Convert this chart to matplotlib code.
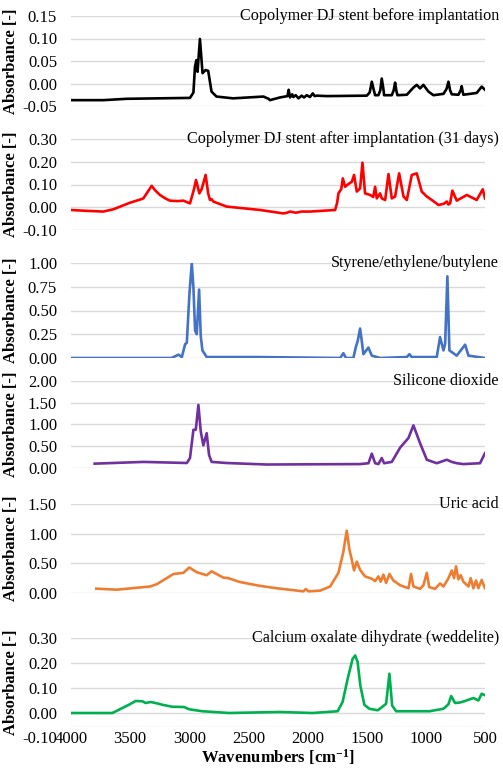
"""
ftir_panels.py  —  stacked FTIR spectra (DJ stent vs. reference compounds)
"""

import matplotlib
matplotlib.use("Agg")
import matplotlib.pyplot as plt
import matplotlib.transforms as mtransforms

# ── Spectra ──────────────────────────────────────────────────────────────────

titles = [
    "Copolymer DJ stent before implantation",
    "Copolymer DJ stent after implantation (31 days)",
    "Styrene/ethylene/butylene",
    "Silicone dioxide",
    "Uric acid",
    "Calcium oxalate dihydrate (weddelite)",
]

wn_before = [4000, 3727, 3529, 2994, 2965, 2952, 2940, 2930, 2910, 2888, 2862, 2840,
             2812, 2770, 2630, 2373, 2330, 2318, 2233, 2170, 2160, 2148, 2130, 2120,
             2100, 2077, 2050, 2030, 2007, 1980, 1956, 1940, 1922, 1837, 1499, 1475,
             1457, 1440, 1429, 1401, 1385, 1373, 1360, 1353, 1288, 1272, 1260, 1248,
             1240, 1161, 1105, 1077, 1049, 1021, 978, 936, 851, 825, 809, 795, 781,
             725, 705, 697, 690, 683, 570, 528, 500]
abs_before = [-0.037, -0.037, -0.034, -0.032, -0.020, 0.037, 0.052, 0.026, 0.099, 0.023,
              0.030, 0.028, -0.018, -0.029, -0.033, -0.029, -0.034, -0.037, -0.031,
              -0.028, -0.014, -0.031, -0.024, -0.030, -0.026, -0.033, -0.027, -0.031,
              -0.026, -0.030, -0.022, -0.028, -0.027, -0.028, -0.027, -0.020, 0.004,
              -0.015, -0.026, -0.026, -0.015, 0.011, -0.010, -0.026, -0.026, -0.015,
              0.002, -0.018, -0.026, -0.025, -0.009, -0.003, -0.011, -0.003, -0.018,
              -0.026, -0.023, -0.012, 0.004, -0.015, -0.024, -0.025, -0.015, -0.006,
              -0.016, -0.025, -0.021, -0.007, -0.014]

wn_after = [4000, 3900, 3727, 3642, 3501, 3420, 3388, 3318, 3290, 3248, 3200, 3163,
            3100, 3050, 2994, 2960, 2943, 2915, 2895, 2862, 2840, 2825, 2810, 2797,
            2685, 2402, 2205, 2180, 2148, 2100, 2050, 1979, 1767, 1750, 1739, 1715,
            1702, 1683, 1660, 1626, 1607, 1584, 1556, 1536, 1514, 1471, 1445, 1429,
            1415, 1387, 1373, 1344, 1316, 1288, 1260, 1226, 1189, 1161, 1119, 1077,
            1035, 992, 950, 893, 850, 823, 810, 795, 776, 739, 654, 570, 519, 500]
abs_after = [-0.012, -0.015, -0.019, -0.009, 0.020, 0.033, 0.039, 0.094, 0.075, 0.054,
             0.038, 0.029, 0.027, 0.029, 0.017, 0.080, 0.120, 0.061, 0.080, 0.142,
             0.060, 0.032, 0.035, 0.025, 0.003, -0.012, -0.027, -0.025, -0.019, -0.024,
             -0.019, -0.019, -0.012, 0.020, 0.061, 0.080, 0.127, 0.090, 0.100, 0.112,
             0.142, 0.069, 0.083, 0.196, 0.061, 0.054, 0.045, 0.090, 0.039, 0.061,
             0.039, 0.032, 0.146, 0.039, 0.047, 0.149, 0.047, 0.032, 0.142, 0.149,
             0.069, 0.047, 0.032, 0.010, 0.015, 0.025, 0.012, 0.017, 0.073, 0.029,
             0.054, 0.032, 0.079, 0.039]

wn_seb = [4000, 3150, 3091, 3063, 3035, 3021, 2999, 2979, 2965, 2951, 2937, 2917, 2903,
          2889, 2853, 2430, 1725, 1697, 1675, 1613, 1593, 1576, 1556, 1542, 1528, 1486,
          1457, 1387, 1161, 1139, 1119, 908, 880, 851, 837, 818, 801, 739, 668, 640, 500]
abs_seb = [0.0, 0.0, 0.035, 0.01, 0.146, 0.16, 0.67, 1.00, 0.74, 0.29, 0.25, 0.72, 0.23,
           0.08, 0.01, 0.01, 0.0, 0.05, 0.0, 0.0, 0.11, 0.18, 0.31, 0.18, 0.04, 0.11,
           0.025, 0.0, 0.01, 0.04, 0.01, 0.01, 0.22, 0.08, 0.15, 0.86, 0.08, 0.025,
           0.14, 0.025, 0.0]

wn_sio2 = [3800, 3388, 3021, 2994, 2965, 2945, 2923, 2903, 2881, 2853, 2833, 2811, 2685,
           2346, 1556, 1485, 1457, 1429, 1401, 1373, 1353, 1288, 1217, 1147, 1105, 1049,
           992, 908, 823, 781, 739, 683, 542, 500]
abs_sio2 = [0.10, 0.14, 0.115, 0.23, 0.88, 0.88, 1.45, 0.84, 0.52, 0.80, 0.30, 0.14,
            0.115, 0.08, 0.09, 0.11, 0.33, 0.11, 0.09, 0.23, 0.11, 0.14, 0.47, 0.69,
            0.98, 0.57, 0.19, 0.11, 0.19, 0.14, 0.11, 0.09, 0.11, 0.34]

wn_uric = [3786, 3611, 3330, 3273, 3134, 3050, 3000, 2937, 2853, 2811, 2769, 2713, 2670,
           2572, 2402, 2261, 2035, 2015, 1993, 1894, 1809, 1739, 1697, 1669, 1646, 1626,
           1607, 1584, 1556, 1514, 1457, 1429, 1401, 1382, 1359, 1336, 1308, 1274, 1217,
           1147, 1125, 1105, 1049, 1021, 992, 972, 922, 880, 851, 809, 781, 762, 745,
           725, 705, 683, 640, 621, 598, 576, 556, 528, 500]
abs_uric = [0.073, 0.056, 0.11, 0.15, 0.32, 0.34, 0.43, 0.35, 0.30, 0.365, 0.32, 0.26,
            0.25, 0.185, 0.12, 0.08, 0.028, 0.067, 0.028, 0.04, 0.11, 0.34, 0.70, 1.05,
            0.73, 0.56, 0.38, 0.53, 0.39, 0.28, 0.24, 0.20, 0.28, 0.19, 0.31, 0.17,
            0.32, 0.21, 0.13, 0.08, 0.32, 0.11, 0.07, 0.13, 0.34, 0.10, 0.07, 0.16,
            0.11, 0.25, 0.38, 0.25, 0.45, 0.23, 0.30, 0.19, 0.11, 0.25, 0.08, 0.21,
            0.08, 0.22, 0.08]

wn_cox = [4000, 3650, 3620, 3566, 3510, 3454, 3397, 3369, 3327, 3285, 3228, 3144, 3045,
          3002, 2946, 2889, 2664, 2240, 1958, 1746, 1704, 1661, 1619, 1597, 1577, 1554,
          1520, 1478, 1407, 1370, 1336, 1308, 1285, 1252, 970, 851, 809, 786, 753, 711,
          669, 598, 556, 528, 500]
abs_cox = [0.0, 0.0, 0.007, 0.02, 0.033, 0.048, 0.047, 0.04, 0.044, 0.04, 0.033, 0.025,
           0.024, 0.015, 0.011, 0.007, 0.0, 0.004, 0.0, 0.007, 0.044, 0.137, 0.217,
           0.23, 0.204, 0.11, 0.033, 0.017, 0.011, 0.024, 0.037, 0.157, 0.03, 0.007,
           0.007, 0.017, 0.035, 0.068, 0.04, 0.042, 0.048, 0.06, 0.05, 0.077, 0.071]

# y ticks per panel
yticks_before = [-0.05, 0.00, 0.05, 0.10, 0.15]
yticks_after = [-0.10, 0.00, 0.10, 0.20, 0.30]
yticks_seb = [0.00, 0.25, 0.50, 0.75, 1.00]
yticks_sio2 = [0.00, 0.50, 1.00, 1.50, 2.00]
yticks_uric = [0.00, 0.50, 1.00, 1.50]
yticks_cox = [-0.10, 0.00, 0.10, 0.20, 0.30]

xticks = [4000, 3500, 3000, 2500, 2000, 1500, 1000, 500]

# ── Style ────────────────────────────────────────────────────────────────────

plt.rcParams['font.family'] = ['Liberation Serif', 'DejaVu Serif']
plt.rcParams['mathtext.fontset'] = 'custom'
plt.rcParams['mathtext.rm'] = 'Liberation Serif:bold'
plt.rcParams['mathtext.bf'] = 'Liberation Serif:bold'
plt.rcParams['mathtext.default'] = 'rm'
TICK_FS = 12
TITLE_FS = 11.6
LABEL_FS = 12
GRID_COLOR = '#d9d9d9'
LW = 1.9

colors = ['#000000', '#ff0000', '#4472c4', '#7030a0', '#ed7d31', '#00b050']

W, H = 503, 773
# (top px, bottom px) of each plot area
panel_px = [(16, 106), (139, 230), (263, 358), (381, 468), (504, 593), (638, 727)]
LEFT_PX, RIGHT_PX = 71, 485

series = [
    (wn_before, abs_before, yticks_before),
    (wn_after, abs_after, yticks_after),
    (wn_seb, abs_seb, yticks_seb),
    (wn_sio2, abs_sio2, yticks_sio2),
    (wn_uric, abs_uric, yticks_uric),
    (wn_cox, abs_cox, yticks_cox),
]

fig = plt.figure(figsize=(W / 100, H / 100), dpi=100)

axes = []
for i, ((wn, ab, yt), (top, bot)) in enumerate(zip(series, panel_px)):
    ax = fig.add_axes([LEFT_PX / W, 1 - bot / H, (RIGHT_PX - LEFT_PX) / W, (bot - top) / H])
    ax.plot(wn, ab, color=colors[i], linewidth=LW, solid_joinstyle='round')
    ax.set_xlim(4000, 500)

    labels = [f"{t:.2f}" for t in yt]
    if i == len(series) - 1:
        # bottom panel: the plot area stops short of -0.10 in the original
        ymin = -0.056
        ax.set_ylim(ymin, yt[-1])
        ax.set_yticks([ymin] + yt[1:], labels=labels)
    else:
        ax.set_ylim(yt[0], yt[-1])
        ax.set_yticks(yt, labels=labels)

    ax.set_xticks(xticks)
    ax.grid(axis='y', color=GRID_COLOR, linewidth=1.0)
    ax.set_axisbelow(True)
    for s in ax.spines.values():
        s.set_visible(False)
    ax.tick_params(axis='y', length=0, pad=10, labelsize=TICK_FS)
    ax.tick_params(axis='x', length=0, pad=3, labelsize=TICK_FS)
    if i < len(series) - 1:
        ax.tick_params(axis='x', labelbottom=False)

    ax.set_ylabel("Absorbance [-]", fontsize=LABEL_FS, fontweight='bold')
    ax.yaxis.set_label_coords((19 - LEFT_PX) / (RIGHT_PX - LEFT_PX), 0.5)

    ax.text((499 - LEFT_PX) / (RIGHT_PX - LEFT_PX), 1.0, titles[i],
            transform=ax.transAxes, ha='right', va='center', fontsize=TITLE_FS,
            clip_on=False)
    axes.append(ax)

# push the "-0.10" label of the last panel down to where it sits in the original
lab = axes[-1].get_yticklabels()[0]
lab.set_transform(lab.get_transform() +
                  mtransforms.ScaledTranslation(0, -10 / 100, fig.dpi_scale_trans))

axes[-1].set_xlabel("Wavenumbers [cm$^{-1}$]", fontsize=LABEL_FS, fontweight='bold',
                    labelpad=0)

fig.savefig("out.png", dpi=100)
